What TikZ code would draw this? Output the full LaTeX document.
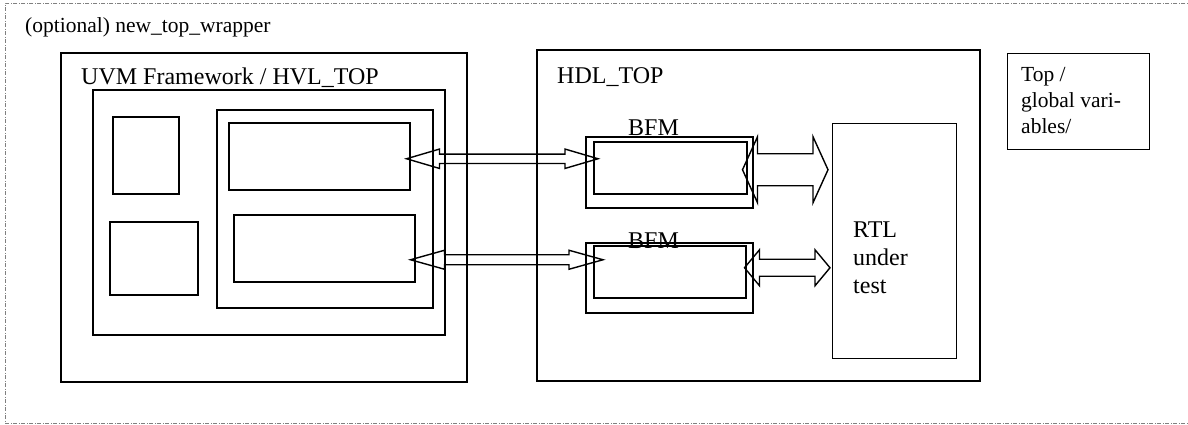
\documentclass[tikz,border=0pt]{standalone}
\usepackage{fontspec}
\setmainfont{Liberation Serif}
\usetikzlibrary{calc}
\newcommand{\bigfs}{\fontsize{24}{27.6}\selectfont}
\newcommand{\smallfs}{\fontsize{21.5}{26}\selectfont}
\tikzset{box/.style={draw=black,line width=1.5pt,inner sep=0pt,anchor=north west},thinbox/.style={box,line width=1.2pt},wrapper/.style={draw=black!50,line width=0.9pt,dash pattern=on 4pt off 1.5pt on 1pt off 1.5pt,inner sep=0pt,anchor=north west},lbl/.style={inner sep=0pt,anchor=base west,font=\bigfs},link/.style={draw=black,line width=1.4pt,line join=miter}}
% double-headed block arrow: from, to, shaft half width, head half width, head length
\newcommand{\blockarrow}[5]{\draw[link] let \p1=(#1),\p2=(#2) in (\p1) -- (\x1+#5,\y1+#4) -- (\x1+#5,\y1+#3) -- (\x2-#5,\y1+#3) -- (\x2-#5,\y1+#4) -- (\x2,\y1) -- (\x2-#5,\y1-#4) -- (\x2-#5,\y1-#3) -- (\x1+#5,\y1-#3) -- (\x1+#5,\y1-#4) -- cycle;}

\begin{document}
\begin{tikzpicture}[x=1pt,y=-1pt]
\useasboundingbox (0,0) rectangle (1188,424);
% wrapper
\node[wrapper,minimum width=1200,minimum height=420] (wrap) at (5,3) {};
\node[lbl,font=\smallfs] (wraplbl) at (25,32) {(optional) new\_top\_wrapper};
% HVL side
\node[box,minimum width=406,minimum height=329] (hvl) at (60,52) {};
\node[lbl] (hvllbl) at (81,84) {UVM Framework / HVL\_TOP};
\node[box,minimum width=352,minimum height=245] (test) at (92,89) {};
\node[box,minimum width=66,minimum height=77] (cfg) at (112,116) {};
\node[box,minimum width=88,minimum height=73] (seq) at (109,221) {};
\node[box,minimum width=216,minimum height=198] (env) at (216,109) {};
\node[box,minimum width=181,minimum height=67] (agtA) at (228,122) {};
\node[box,minimum width=181,minimum height=67] (agtB) at (233,214) {};
% HDL side
\node[box,minimum width=443,minimum height=331] (hdl) at (536,49) {};
\node[lbl] (hdllbl) at (557,83) {HDL\_TOP};
\node[box,minimum width=167,minimum height=71] (bfmA) at (585,136) {};
\node[box,minimum width=153,minimum height=52] (bfmAin) at (593,141) {};
\node[lbl] (bfmAlbl) at (628,135) {BFM};
\node[box,minimum width=167,minimum height=70] (bfmB) at (585,242) {};
\node[box,minimum width=152,minimum height=52] (bfmBin) at (593,245) {};
\node[lbl] (bfmBlbl) at (628,248) {BFM};
\node[thinbox,minimum width=124,minimum height=235] (rtl) at (832,123) {};
\node[lbl,align=left] (rtllbl) at (853,293) {RTL\\under\\test};
\node[thinbox,minimum width=142,minimum height=96] (glob) at (1007,53) {};
\node[lbl,align=left,font=\smallfs] (globlbl) at (1021,133) {Top /\\global vari-\\ables/};
% links
\coordinate (lkAl) at ($(agtA.east)+(-4,2.5)$);
\coordinate (lkAr) at ($(bfmAin.west)+(5,-9)$);
\coordinate (lkBl) at ($(agtB.east)+(-5,11.5)$);
\coordinate (lkBr) at ($(bfmBin.west)+(10,-12)$);
\coordinate (dutAl) at ($(bfmAin.east)+(-5,2)$);
\coordinate (dutAr) at ($(rtl.north west)+(-4,46)$);
\coordinate (dutBl) at ($(bfmBin.east)+(-2,-4)$);
\coordinate (dutBr) at ($(rtl.north west)+(-2,144)$);
\blockarrow{lkAl}{lkAr}{4.7pt}{9.7pt}{33pt}
\blockarrow{lkBl}{lkBr}{5pt}{9.5pt}{34pt}
\blockarrow{dutAl}{dutAr}{16pt}{33pt}{15pt}
\blockarrow{dutBl}{dutBr}{8.5pt}{18pt}{15pt}
\end{tikzpicture}
\end{document}
